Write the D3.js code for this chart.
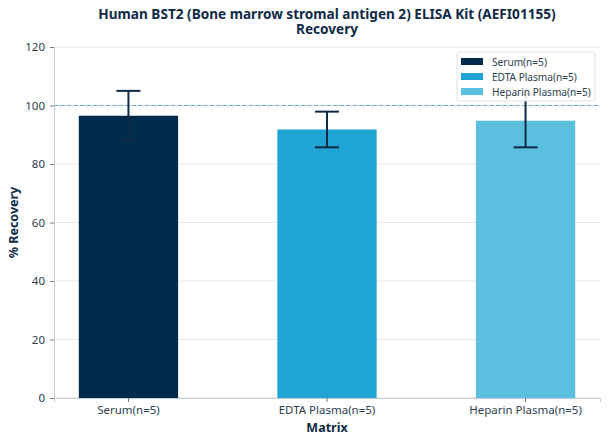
<!DOCTYPE html>
<html>
<head>
<meta charset="utf-8">
<script src="https://cdn.jsdelivr.net/npm/d3@7"></script>
<style>
  body { margin: 0; background: #fff; }
  svg { font-family: "Noto Sans", "Open Sans", sans-serif; }
</style>
</head>
<body>
<svg id="chart" width="608" height="444"></svg>
<script>
// data
var matrices = ["Serum(n=5)", "EDTA Plasma(n=5)", "Heparin Plasma(n=5)"];
var recovery = [96.5, 91.8, 94.8];
var errors = [8.5, 6.1, 9.1];
var yTicks = [0, 20, 40, 60, 80, 100, 120];
var titleLines = ["Human BST2 (Bone marrow stromal antigen 2) ELISA Kit (AEFI01155)", "Recovery"];

var colors = ["#002b4a", "#20a4d3", "#5bbfe0"];
var textColor = "#2c3e50";
var navy = "#0e2a47";

var svg = d3.select("#chart"),
    margin = {left: 54, right: 8, top: 47, bottom: 46},
    width = +svg.attr("width") - margin.left - margin.right,
    height = +svg.attr("height") - margin.top - margin.bottom;

var g = svg.append("g")
  .attr("transform", "translate(" + margin.left + "," + margin.top + ")");

var x = d3.scaleBand()
  .domain(matrices)
  .range([0, width])
  .paddingInner(0.5)
  .paddingOuter(0.125);

var y = d3.scaleLinear()
  .domain([0, 120])
  .range([height, 0]);

// gridlines
g.append("g")
  .selectAll("line")
  .data(yTicks)
  .enter().append("line")
  .attr("x1", 0)
  .attr("x2", width)
  .attr("y1", function(d) { return y(d); })
  .attr("y2", function(d) { return y(d); })
  .attr("stroke", "#e3e8ec")
  .attr("stroke-width", 1);

// bars
g.selectAll(".bar")
  .data(matrices)
  .enter().append("rect")
  .attr("class", "bar")
  .attr("x", function(d) { return x(d); })
  .attr("width", x.bandwidth())
  .attr("y", function(d, i) { return y(recovery[i]); })
  .attr("height", function(d, i) { return y(0) - y(recovery[i]); })
  .attr("fill", function(d, i) { return colors[i]; });

// 100% reference line
g.append("line")
  .attr("x1", 0)
  .attr("x2", width)
  .attr("y1", y(100))
  .attr("y2", y(100))
  .attr("stroke", "#5fb0c4")
  .attr("stroke-width", 1)
  .attr("stroke-dasharray", "4,2.5");

// error bars
var capHalf = 12;
var err = g.selectAll(".err")
  .data(matrices)
  .enter().append("g")
  .attr("class", "err")
  .attr("stroke", navy)
  .attr("stroke-width", 2);
err.append("line")
  .attr("x1", function(d) { return x(d) + x.bandwidth() / 2; })
  .attr("x2", function(d) { return x(d) + x.bandwidth() / 2; })
  .attr("y1", function(d, i) { return y(recovery[i] - errors[i]); })
  .attr("y2", function(d, i) { return y(recovery[i] + errors[i]); });
err.append("line")
  .attr("x1", function(d) { return x(d) + x.bandwidth() / 2 - capHalf; })
  .attr("x2", function(d) { return x(d) + x.bandwidth() / 2 + capHalf; })
  .attr("y1", function(d, i) { return y(recovery[i] + errors[i]); })
  .attr("y2", function(d, i) { return y(recovery[i] + errors[i]); });
err.append("line")
  .attr("x1", function(d) { return x(d) + x.bandwidth() / 2 - capHalf; })
  .attr("x2", function(d) { return x(d) + x.bandwidth() / 2 + capHalf; })
  .attr("y1", function(d, i) { return y(recovery[i] - errors[i]); })
  .attr("y2", function(d, i) { return y(recovery[i] - errors[i]); });

// axes
var yAxis = g.append("g")
  .call(d3.axisLeft(y).tickValues(yTicks).tickSize(4).tickPadding(5));
var xAxis = g.append("g")
  .attr("transform", "translate(0," + height + ")")
  .call(d3.axisBottom(x).tickSize(4).tickPadding(4));

[xAxis, yAxis].forEach(function(a) {
  a.select(".domain").attr("stroke", "#c5cdd3");
  a.selectAll(".tick line").attr("stroke", "#6b7a86");
  a.selectAll("text")
    .attr("fill", textColor)
    .style("font-size", "11.5px")
    .style("font-family", "'Noto Sans', 'Open Sans', sans-serif");
});

// axis titles
svg.append("text")
  .attr("x", margin.left + width / 2)
  .attr("y", 432)
  .attr("text-anchor", "middle")
  .attr("fill", "#0e2a47")
  .style("font-size", "12.5px")
  .style("font-weight", "bold")
  .text("Matrix");

svg.append("text")
  .attr("transform", "translate(18," + (margin.top + height / 2) + ") rotate(-90)")
  .attr("text-anchor", "middle")
  .attr("fill", "#0e2a47")
  .style("font-size", "12.5px")
  .style("font-weight", "bold")
  .text("% Recovery");

// title, two lines in one text element
var title = svg.append("text")
  .attr("text-anchor", "middle")
  .attr("fill", "#0e2a47")
  .style("font-size", "13.6px")
  .style("font-weight", "bold");
title.selectAll("tspan")
  .data(titleLines)
  .enter().append("tspan")
  .attr("x", margin.left + width / 2)
  .attr("y", function(d, i) { return 18.5 + i * 15.5; })
  .text(function(d) { return d; });

// legend
var legend = svg.append("g")
  .attr("transform", "translate(457,52)");
legend.append("rect")
  .attr("width", 138)
  .attr("height", 49)
  .attr("rx", 2)
  .attr("fill", "#fff")
  .attr("fill-opacity", 0.9)
  .attr("stroke", "#dfe3e6");
var item = legend.selectAll(".item")
  .data(matrices)
  .enter().append("g")
  .attr("class", "item")
  .attr("transform", function(d, i) { return "translate(4," + (6 + i * 15) + ")"; });
item.append("rect")
  .attr("width", 22)
  .attr("height", 7)
  .attr("fill", function(d, i) { return colors[i]; });
item.append("text")
  .attr("x", 31)
  .attr("y", 7.5)
  .attr("fill", textColor)
  .style("font-size", "10.1px")
  .text(function(d) { return d; });
</script>
</body>
</html>
